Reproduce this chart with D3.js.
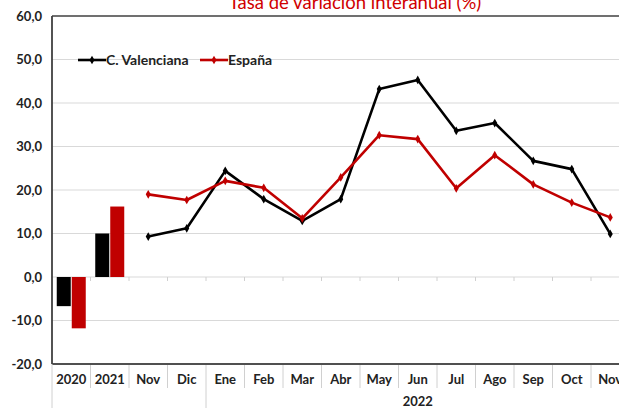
<!DOCTYPE html>
<html><head><meta charset="utf-8">
<script src="https://cdn.jsdelivr.net/npm/d3@7"></script>
<style>body{margin:0;background:#fff}svg{display:block}text{font-family:Lato,"Open Sans",sans-serif}</style>
</head><body><svg id="c" width="619" height="408"></svg>
<script>
const categories = ["2020","2021","Nov","Dic","Ene","Feb","Mar","Abr","May","Jun","Jul","Ago","Sep","Oct","Nov "];
const barCategories = ["2020","2021"];
const barValenciana = [-6.7, 10.0];
const barEspana = [-11.8, 16.2];
const lineCategories = ["Nov","Dic","Ene","Feb","Mar","Abr","May","Jun","Jul","Ago","Sep","Oct","Nov "];
const lineValenciana = [9.3, 11.2, 24.4, 17.9, 12.9, 17.9, 43.2, 45.3, 33.6, 35.4, 26.7, 24.8, 9.9];
const lineEspana = [19.0, 17.7, 22.1, 20.5, 13.5, 22.9, 32.6, 31.7, 20.4, 28.0, 21.3, 17.1, 13.7];
const yTicks = [-20,-10,0,10,20,30,40,50,60];
const seriesNames = ["C. Valenciana","España"];
const colors = ["#000000","#c00000"];
const title = "Tasa de variación interanual (%)";
const groupLabel = "2022";

const svg = d3.select("#c");
const mLeft = 52, mTop = 16, mBottom = 364, step = 38.5;
const x = d3.scaleBand().domain(categories).range([mLeft, mLeft + step*categories.length]).padding(0);
const y = d3.scaleLinear().domain([-20,60]).range([mBottom, mTop]);

// gridlines
svg.append("g").selectAll("line").data(yTicks.filter(d=>d>-20&&d<60)).join("line")
  .attr("x1", mLeft).attr("x2", 619).attr("y1", d=>y(d)).attr("y2", d=>y(d))
  .attr("stroke", "#d9d9d9").attr("stroke-width", 1.2);

// title
svg.append("text").attr("x", 355).attr("y", 9).attr("text-anchor","middle")
  .attr("fill","#d00000").attr("font-size", 18.5).text(title);

// y axis labels
const yAxis = d3.axisLeft(y).tickValues(yTicks).tickSize(0).tickPadding(10)
  .tickFormat(d => d3.format(".1f")(d).replace(".", ",").replace("−","-"));
const ya = svg.append("g").attr("transform", `translate(${mLeft},0)`).call(yAxis);
ya.select(".domain").remove();
ya.selectAll("text").attr("font-size", 13).attr("font-weight","bold").attr("fill","#222")
  .attr("font-family","Lato,'Open Sans',sans-serif");

// zero line ticks
svg.append("g").selectAll("line").data(categories.slice(1)).join("line")
  .attr("x1", d=>x(d)).attr("x2", d=>x(d)).attr("y1", y(0)).attr("y2", y(0)+4)
  .attr("stroke","#d0d0d0").attr("stroke-width",1);

// bars
const bw = 14;
barCategories.forEach((c,i)=>{
  const cx = x(c) + x.bandwidth()/2;
  [[barValenciana[i], colors[0], cx-bw-0.5],[barEspana[i], colors[1], cx+0.5]].forEach(([v,col,bx])=>{
    svg.append("rect").attr("x", bx).attr("width", bw)
      .attr("y", y(Math.max(0,v))).attr("height", Math.abs(y(v)-y(0)))
      .attr("fill", col);
  });
});

// lines
const lx = d => x(d) + x.bandwidth()/2;
[lineValenciana, lineEspana].forEach((vals,si)=>{
  const pts = lineCategories.map((c,i)=>[lx(c), y(vals[i])]);
  svg.append("path").attr("d", d3.line()(pts)).attr("fill","none")
    .attr("stroke", colors[si]).attr("stroke-width", 2.6).attr("stroke-linejoin","round");
  svg.append("g").selectAll("path").data(pts).join("path")
    .attr("d", d3.symbol(d3.symbolDiamond, 22)())
    .attr("transform", d=>`translate(${d[0]},${d[1]})`).attr("fill", colors[si]);
});

// frame
svg.append("line").attr("x1",mLeft).attr("x2",619).attr("y1",mTop).attr("y2",mTop).attr("stroke","#404040").attr("stroke-width",1.5);
svg.append("line").attr("x1",mLeft).attr("x2",619).attr("y1",mBottom).attr("y2",mBottom).attr("stroke","#505050").attr("stroke-width",1.8);
svg.append("line").attr("x1",mLeft).attr("x2",mLeft).attr("y1",mTop).attr("y2",mBottom).attr("stroke","#404040").attr("stroke-width",1.8);

// category separators
svg.append("g").selectAll("line").data(categories.slice(1)).join("line")
  .attr("x1", d=>x(d)).attr("x2", d=>x(d)).attr("y1", mBottom+1)
  .attr("y2", d => d==="Ene" ? 408 : 388)
  .attr("stroke","#d0d0d0").attr("stroke-width",1);
svg.append("line").attr("x1",mLeft).attr("x2",mLeft).attr("y1",mBottom).attr("y2",408).attr("stroke","#d0d0d0");

// x labels
const xa = svg.append("g").attr("transform", `translate(0,${mBottom})`)
  .call(d3.axisBottom(x).tickSize(0).tickPadding(11).tickFormat(d=>d.trim()));
xa.select(".domain").remove();
xa.selectAll("text").attr("font-size", 13).attr("font-weight","bold").attr("fill","#222")
  .attr("font-family","Lato,'Open Sans',sans-serif");
svg.append("text").attr("x", (x("Ene") + mLeft + step*categories.length)/2).attr("y", 406)
  .attr("text-anchor","middle").attr("font-size",13).attr("font-weight","bold").attr("fill","#222").text(groupLabel);

// legend
const lg = [[78, 106], [200, 228]];
seriesNames.forEach((n,i)=>{
  const [x0, tx] = lg[i];
  svg.append("line").attr("x1",x0).attr("x2",x0+28).attr("y1",60).attr("y2",60)
    .attr("stroke",colors[i]).attr("stroke-width",2.6);
  svg.append("path").attr("d", d3.symbol(d3.symbolDiamond, 22)())
    .attr("transform",`translate(${x0+14},60)`).attr("fill",colors[i]);
  svg.append("text").attr("x", tx).attr("y", 64.5).attr("font-size",14).attr("font-weight","bold")
    .attr("fill","#222").text(n);
});
</script></body></html>
